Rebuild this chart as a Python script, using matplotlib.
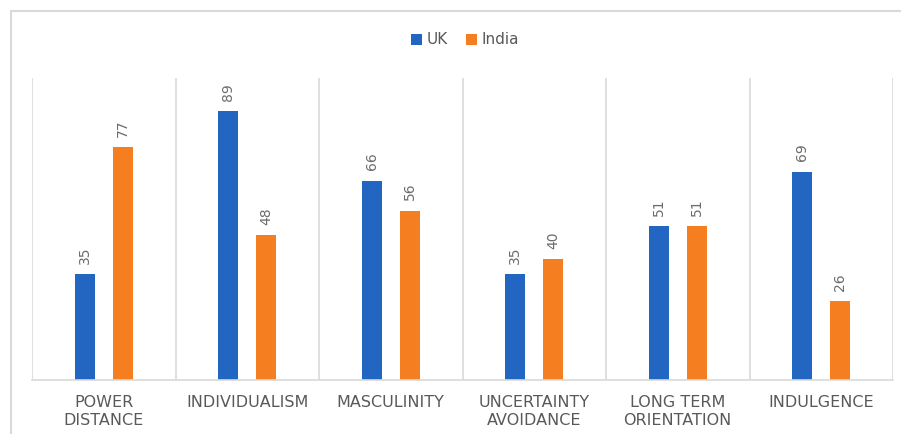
import numpy as np
import matplotlib.pyplot as plt
from matplotlib.patches import Rectangle

categorias = ['POWER\nDISTANCE', 'INDIVIDUALISM', 'MASCULINITY',
              'UNCERTAINTY\nAVOIDANCE', 'LONG TERM\nORIENTATION', 'INDULGENCE']
uk = [35, 89, 66, 35, 51, 69]
india = [77, 48, 56, 40, 51, 26]

cor_uk = '#2366C1'
cor_india = '#F47E20'
cinza = '#D9D9D9'
texto = '#595959'

fig = plt.figure(figsize=(9.01, 4.34), dpi=100)
ax = fig.add_axes([32 / 901, 1 - 380 / 434, (893 - 32) / 901, (380 - 78) / 434])

# moldura externa do grafico
fig.patches.append(Rectangle((11 / 901, -0.1), 1.2, 0.1 + 1 - 11 / 434,
                             transform=fig.transFigure, fill=False,
                             edgecolor=cinza, linewidth=1.5))

x = np.arange(len(categorias))
largura = 0.14
desloc = 0.132

b1 = ax.bar(x - desloc, uk, largura, color=cor_uk, label='UK')
b2 = ax.bar(x + desloc, india, largura, color=cor_india, label='India')

for barras in (b1, b2):
    for b in barras:
        ax.annotate(str(int(b.get_height())),
                    (b.get_x() + b.get_width() / 2, b.get_height()),
                    xytext=(0, 7.5), textcoords='offset points',
                    ha='center', va='bottom', rotation=90,
                    fontsize=10, color='#6b6b6b')

ax.set_xlim(-0.5, len(categorias) - 0.5)
ax.set_ylim(0, 100)

# separadores entre categorias
for s in np.arange(-0.5, len(categorias), 1.0):
    ax.axvline(s, color=cinza, linewidth=1.2, zorder=0)

for lado in ['top', 'right', 'left']:
    ax.spines[lado].set_visible(False)
ax.spines['bottom'].set_color(cinza)
ax.spines['bottom'].set_linewidth(1.2)

ax.set_yticks([])
ax.set_xticks(x)
ax.set_xticklabels(categorias, fontsize=11.5, color=texto, linespacing=1.25)
ax.tick_params(axis='x', length=0, pad=11)

fig.legend(handles=[b1, b2], loc='center', bbox_to_anchor=(465 / 901, 1 - 40 / 434),
           ncol=2, frameon=False, fontsize=11, handlelength=0.7, handleheight=0.7,
           handletextpad=0.3, columnspacing=1.2, labelcolor=texto)

fig.savefig('out.png', dpi=100)
